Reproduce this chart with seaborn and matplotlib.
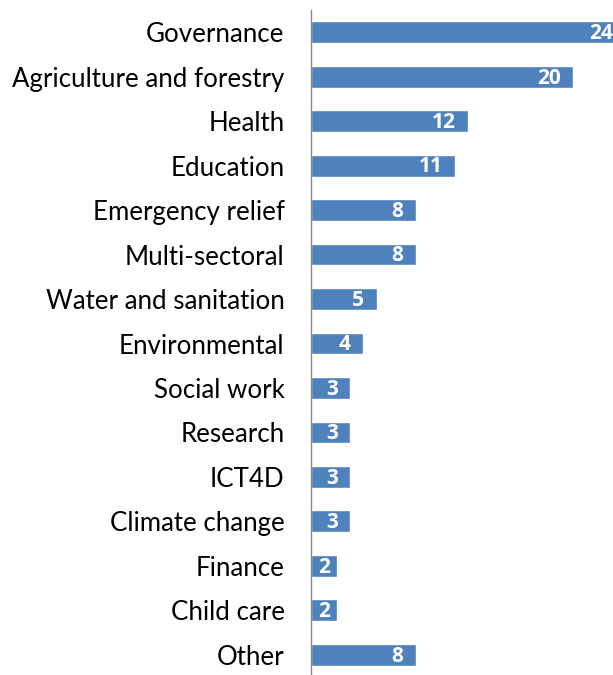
import matplotlib
matplotlib.use("Agg")
import matplotlib.pyplot as plt
import seaborn as sns
import pandas as pd
import numpy as np
from matplotlib.ticker import FixedLocator

categories = ["Governance", "Agriculture and forestry", "Health", "Education",
              "Emergency relief", "Multi-sectoral", "Water and sanitation",
              "Environmental", "Social work", "Research", "ICT4D",
              "Climate change", "Finance", "Child care", "Other"]
values = [24, 20, 12, 11, 8, 8, 5, 4, 3, 3, 3, 3, 2, 2, 8]

df = pd.DataFrame({"category": categories, "value": values})

sns.set_style("white")
plt.rcParams['font.family'] = ['Lato', 'DejaVu Sans']

W, H = 613, 675
fig = plt.figure(figsize=(W / 100, H / 100), dpi=100)
px_per_unit = 13.1
xmax = 25
left = 311 / W
width = px_per_unit * xmax / W
top_px, bot_px = 10, 677
ax = fig.add_axes([left, 1 - bot_px / H, width, (bot_px - top_px) / H])

sns.barplot(data=df, x="value", y="category", orient="h", color="#4F81BD",
            saturation=1, width=0.49, ax=ax)

ax.set_xlim(0, xmax)
ax.set_ylim(len(categories) - 0.5, -0.5)
ax.set_xlabel("")
ax.set_ylabel("")
ax.set_xticks([])

for s in ["top", "right", "bottom"]:
    ax.spines[s].set_visible(False)
ax.spines["left"].set_color("#868686")
ax.spines["left"].set_linewidth(1)

ax.tick_params(axis="y", which="major", length=0, pad=19, labelsize=18.6, labelcolor="black")
ax.yaxis.set_minor_locator(FixedLocator(np.arange(-0.5, len(categories), 1)))
ax.tick_params(axis="y", which="minor", length=6, width=1, color="#868686")

for i, v in enumerate(values):
    hw = 0.45 * len(str(v))
    xc = max(v - 0.95 - hw, v / 2)
    ax.text(xc, i + 0.03, str(v), ha="center", va="center", color="white",
            fontsize=15, fontweight="bold", family=["Open Sans", "DejaVu Sans"])

fig.savefig("out.png", dpi=100)
